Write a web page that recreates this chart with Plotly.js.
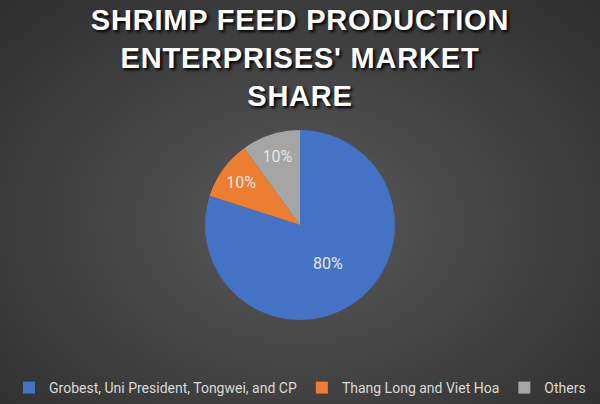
<!DOCTYPE html>
<html>
<head>
<meta charset="utf-8">
<script src="https://cdn.plot.ly/plotly-3.0.1.min.js"></script>
<style>
html,body{margin:0;padding:0;}
body{width:600px;height:404px;background:radial-gradient(ellipse at 50% 55%, #5a5a5a 0%, #474747 40%, #2e2e2e 100%);}
#chart{width:600px;height:404px;}
.gtitle{letter-spacing:0.8px;}
</style>
</head>
<body>
<div id="chart"></div>
<script>
const categories = ["Grobest, Uni President, Tongwei, and CP", "Thang Long and Viet Hoa", "Others"];
const shares = [80, 10, 10];
const colors = ["#4472C4", "#ED7D31", "#A5A5A5"];
const titleText = "SHRIMP FEED PRODUCTION<br>ENTERPRISES' MARKET<br>SHARE";

const trace = {
  type: "pie",
  labels: categories,
  values: shares,
  sort: false,
  direction: "clockwise",
  rotation: 0,
  marker: {colors: colors, line: {color: "rgba(0,0,0,0)", width: 0}},
  texttemplate: "%{percent:.0%}",
  textposition: "inside",
  insidetextorientation: "horizontal",
  textfont: {family: "Roboto, sans-serif", size: 16, color: "#e6e6e6"},
  domain: {x: [0, 1], y: [0.208, 0.678]},
  hoverinfo: "label+percent"
};

const layout = {
  width: 600, height: 404,
  paper_bgcolor: "rgba(0,0,0,0)",
  plot_bgcolor: "rgba(0,0,0,0)",
  margin: {l: 0, r: 0, t: 0, b: 0},
  title: {
    text: titleText,
    x: 0.5, xanchor: "center",
    y: 0.925, yanchor: "top", yref: "container",
    font: {family: "Liberation Sans, Arial, sans-serif", size: 29, color: "#ffffff", weight: 700, shadow: "2px 2px 3px #000"}
  },
  showlegend: true,
  legend: {
    orientation: "h",
    x: 0.5, xanchor: "center",
    y: 0, yanchor: "bottom",
    font: {family: "Roboto, sans-serif", size: 14, color: "#d9d9d9"},
    itemwidth: 30,
    tracegroupgap: 0,
    bgcolor: "rgba(0,0,0,0)"
  }
};

Plotly.newPlot("chart", [trace], layout, {displayModeBar: false, staticPlot: true});
</script>
</body>
</html>
